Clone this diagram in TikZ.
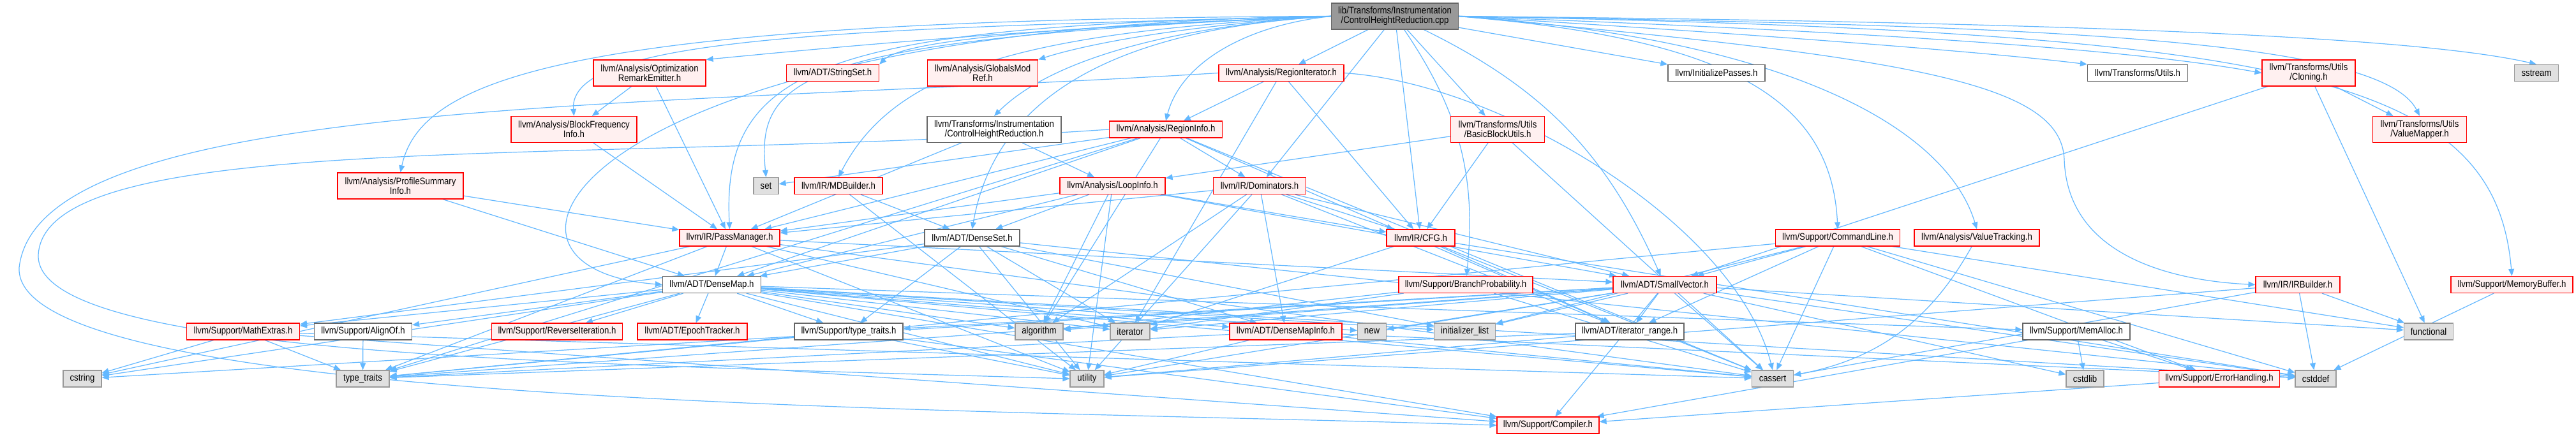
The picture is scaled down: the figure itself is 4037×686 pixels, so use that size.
\documentclass[tikz,border=0pt]{standalone}
\usepackage{fontspec}
\setmainfont{Liberation Sans}[FakeStretch=0.88]
\usetikzlibrary{arrows.meta,backgrounds}
\definecolor{edgec}{HTML}{63B8FF}
\definecolor{redb}{HTML}{FF0000}
\definecolor{redf}{HTML}{FFF0F0}
\definecolor{grayb}{HTML}{999999}
\definecolor{grayf}{HTML}{E0E0E0}
\definecolor{darkb}{HTML}{666666}
\definecolor{mainf}{HTML}{999999}
\begin{document}
\begin{tikzpicture}[x=0.5pt,y=-0.5pt,
  box/.style={rectangle, inner sep=0pt, align=center, font=\fontsize{7.5}{7.5}\selectfont, line width=0.6pt, minimum height=13pt},
  two/.style={minimum height=20.5pt},
  redbox/.style={box, draw=redb, fill=redf},
  whitebox/.style={box, draw=darkb, fill=white},
  graybox/.style={box, draw=grayb, fill=grayf},
  mainbox/.style={box, draw=darkb, fill=mainf},
  edge/.style={draw=edgec, line width=0.6pt, -{Triangle[length=5.5pt,width=4.5pt]}}]
\useasboundingbox (0,0) rectangle (4037,686);
% Row A
\node[mainbox,two,minimum width=99.5pt] (main) at (2186,25.5) {lib/Transforms/Instrumentation\\/ControlHeightReduction.cpp};
% Row B
\node[redbox,two,minimum width=88pt] (optre) at (1018,114.5) {llvm/Analysis/Optimization\\RemarkEmitter.h};
\node[redbox,minimum width=72.5pt] (strset) at (1305,114.5) {llvm/ADT/StringSet.h};
\node[redbox,two,minimum width=86.5pt] (gmr) at (1540,114.5) {llvm/Analysis/GlobalsMod\\Ref.h};
\node[redbox,minimum width=98pt] (regit) at (2008,114.5) {llvm/Analysis/RegionIterator.h};
\node[whitebox,minimum width=76pt] (initp) at (2690,114.5) {llvm/InitializePasses.h};
\node[whitebox,minimum width=78.5pt] (tutils) at (3350,114.5) {llvm/Transforms/Utils.h};
\node[redbox,two,minimum width=73pt] (cloning) at (3618,114.5) {llvm/Transforms/Utils\\/Cloning.h};
\node[graybox,minimum width=34.5pt] (sstream) at (3975,114.5) {sstream};
% Row C
\node[redbox,two,minimum width=98.5pt] (bfi) at (899.5,203) {llvm/Analysis/BlockFrequency\\Info.h};
\node[whitebox,two,minimum width=105pt] (chrh) at (1558,203) {llvm/Transforms/Instrumentation\\/ControlHeightReduction.h};
\node[redbox,minimum width=88.5pt] (reginfo) at (1827,203) {llvm/Analysis/RegionInfo.h};
\node[redbox,two,minimum width=73.5pt] (bbu) at (2347,203) {llvm/Transforms/Utils\\/BasicBlockUtils.h};
\node[redbox,two,minimum width=73.5pt] (vmap) at (3792,203) {llvm/Transforms/Utils\\/ValueMapper.h};
% Row D
\node[redbox,two,minimum width=98.5pt] (psi) at (627.5,291.5) {llvm/Analysis/ProfileSummary\\Info.h};
\node[graybox,minimum width=19.5pt] (set) at (1200.5,291.5) {set};
\node[redbox,minimum width=69pt] (mdb) at (1314,291.5) {llvm/IR/MDBuilder.h};
\node[redbox,minimum width=82.5pt] (loopinfo) at (1743.5,291.5) {llvm/Analysis/LoopInfo.h};
\node[redbox,minimum width=72.5pt] (dom) at (1974,291.5) {llvm/IR/Dominators.h};
% Row E
\node[redbox,minimum width=78.5pt] (pm) at (1143.5,373) {llvm/IR/PassManager.h};
\node[whitebox,minimum width=74.5pt] (denseset) at (1523.5,373) {llvm/ADT/DenseSet.h};
\node[redbox,minimum width=53.5pt] (cfg) at (2226.5,373) {llvm/IR/CFG.h};
\node[redbox,minimum width=97.5pt] (cl) at (2880,373) {llvm/Support/CommandLine.h};
\node[redbox,minimum width=98pt] (vt) at (3098,373) {llvm/Analysis/ValueTracking.h};
% Row F
\node[whitebox,minimum width=77pt] (densemap) at (1115.5,446.5) {llvm/ADT/DenseMap.h};
\node[redbox,minimum width=105pt] (bp) at (2297,446.5) {llvm/Support/BranchProbability.h};
\node[redbox,minimum width=81pt] (sv) at (2609,446.5) {llvm/ADT/SmallVector.h};
\node[redbox,minimum width=66pt] (irb) at (3601,446.5) {llvm/IR/IRBuilder.h};
\node[redbox,minimum width=95.5pt] (mbuf) at (3936.5,446.5) {llvm/Support/MemoryBuffer.h};
% Row G
\node[redbox,minimum width=88.5pt] (mathex) at (381,520) {llvm/Support/MathExtras.h};
\node[whitebox,minimum width=76.5pt] (alignof) at (569,520) {llvm/Support/AlignOf.h};
\node[redbox,minimum width=102.5pt] (reviter) at (873,520) {llvm/Support/ReverseIteration.h};
\node[redbox,minimum width=86pt] (epoch) at (1085,520) {llvm/ADT/EpochTracker.h};
\node[whitebox,minimum width=85pt] (ttraitsh) at (1330,520) {llvm/Support/type\_traits.h};
\node[graybox,minimum width=37.5pt] (algorithm) at (1628.5,520) {algorithm};
\node[graybox,minimum width=31pt] (iterator) at (1771,520) {iterator};
\node[redbox,minimum width=88pt] (dmi) at (2015,520) {llvm/ADT/DenseMapInfo.h};
\node[graybox,minimum width=22.5pt] (new) at (2150,520) {new};
\node[graybox,minimum width=48pt] (initlist) at (2295.5,520) {initializer\_list};
\node[whitebox,minimum width=85pt] (itrange) at (2554,520) {llvm/ADT/iterator\_range.h};
\node[whitebox,minimum width=84pt] (memalloc) at (3254,520) {llvm/Support/MemAlloc.h};
\node[graybox,minimum width=38.5pt] (functional) at (3806,520) {functional};
% Row H
\node[graybox,minimum width=30pt] (cstring) at (129,594) {cstring};
\node[graybox,minimum width=41.5pt] (ttraits) at (568.5,594) {type\_traits};
\node[graybox,minimum width=26.5pt] (utility) at (1703.5,594) {utility};
\node[graybox,minimum width=32.5pt] (cassert) at (2778,594) {cassert};
\node[graybox,minimum width=29.5pt] (cstdlib) at (3267.5,594) {cstdlib};
\node[redbox,minimum width=94.5pt] (errh) at (3478,594) {llvm/Support/ErrorHandling.h};
\node[graybox,minimum width=32pt] (cstddef) at (3629,594) {cstddef};
% Row I
\node[redbox,minimum width=80pt] (compiler) at (2426,667) {llvm/Support/Compiler.h};

\begin{scope}[on background layer]
\fill[white] (0,0) rectangle (4037,686);
% main node edges
\draw[edge] (main.west) .. controls (1600,45) and (1300,75) .. (optre.north east);
\draw[edge] (main.west) .. controls (1700,40) and (1420,60) .. (strset.north east);
\draw[edge] (main.west) .. controls (1850,40) and (1700,70) .. (gmr.north east);
\draw[edge] (main) -- (regit);
\draw[edge] (main.west) .. controls (1850,40) and (1650,90) .. (chrh.north);
\draw[edge] (main.west) .. controls (1950,40) and (1850,100) .. (reginfo.north);
\draw[edge] (main.west) .. controls (1300,45) and (890,60) .. (bfi.north);
\draw[edge] (main.west) .. controls (900,30) and (660,120) .. (psi.north);
\draw[edge] (main.west) .. controls (1250,60) and (1185,120) .. (set.north);
\draw[edge] (main.west) .. controls (1600,50) and (1400,110) .. (mdb.north);
\draw[edge] (main.west) .. controls (1300,40) and (1130,100) .. (pm.north);
\draw[edge] (main.west) .. controls (1750,45) and (1560,150) .. (denseset.north);
\draw[edge] (main.west) .. controls (900,40) and (700,420) .. (densemap.west);
\draw[edge] (main) -- (dom);
\draw[edge] (main) -- (cfg);
\draw[edge] (main) -- (bbu);
\draw[edge] (main) to[bend left=20] (bp);
\draw[edge] (main) to[bend left=20] (sv);
\draw[edge] (main) -- (initp);
\draw[edge] (main.east) .. controls (2700,50) and (3100,80) .. (tutils.north west);
\draw[edge] (main.east) .. controls (2800,45) and (3300,70) .. (cloning.west);
\draw[edge] (main.east) .. controls (3200,40) and (3730,60) .. (vmap.north);
\draw[edge] (main.east) .. controls (3300,35) and (3800,60) .. (sstream.north);
\draw[edge] (main.east) .. controls (2700,60) and (2870,150) .. (cl.north);
\draw[edge] (main.east) .. controls (2800,60) and (3050,200) .. (vt.north);
\draw[edge] (main.east) .. controls (3000,90) and (3230,130) .. (3235,250) .. controls (3240,400) and (3400,440) .. (irb.west);
\draw[edge] (main.east) .. controls (3600,50) and (3910,120) .. (mbuf.north);
% second level
\draw[edge] (optre) -- (bfi);
\draw[edge] (optre) -- (pm);
\draw[edge] (bfi) -- (pm);
\draw[edge] (psi) -- (densemap);
\draw[edge] (psi) -- (pm);
\draw[edge] (regit) -- (reginfo);
\draw[edge] (regit) -- (cfg);
\draw[edge] (regit) -- (iterator);
\draw[edge] (regit.east) .. controls (2350,130) and (2720,350) .. (cassert.north);
\draw[edge] (regit.west) .. controls (1000,170) and (60,150) .. (30,420) .. controls (20,640) and (1500,640) .. (compiler.west);
\draw[edge] (reginfo) -- (densemap);
\draw[edge] (reginfo) -- (itrange);
\draw[edge] (reginfo) -- (dom);
\draw[edge] (reginfo) -- (pm);
\draw[edge] (reginfo) -- (algorithm);
\draw[edge] (reginfo) -- (cassert);
\draw[edge] (reginfo) -- (set);
\draw[edge] (reginfo) -- (ttraits);
\draw[edge] (reginfo.west) .. controls (900,260) and (70,200) .. (60,400) .. controls (55,560) and (900,570) .. (utility.west);
\draw[edge] (chrh) -- (loopinfo);
\draw[edge] (chrh) -- (pm);
\draw[edge] (loopinfo) -- (densemap);
\draw[edge] (loopinfo) -- (denseset);
\draw[edge] (loopinfo) -- (sv);
\draw[edge] (loopinfo) -- (cfg);
\draw[edge] (loopinfo) -- (pm);
\draw[edge] (loopinfo) -- (algorithm);
\draw[edge] (loopinfo) -- (utility);
\draw[edge] (dom) -- (dmi);
\draw[edge] (dom) -- (sv);
\draw[edge] (dom) -- (itrange);
\draw[edge] (dom) -- (cfg);
\draw[edge] (dom) -- (pm);
\draw[edge] (dom) -- (algorithm);
\draw[edge] (dom) -- (utility);
\draw[edge] (bbu) -- (loopinfo);
\draw[edge] (bbu) -- (cfg);
\draw[edge] (bbu) -- (cassert);
\draw[edge] (mdb) -- (denseset);
\draw[edge] (mdb) -- (utility);
\draw[edge] (pm) -- (densemap);
\draw[edge] (pm) -- (sv);
\draw[edge] (pm) -- (cassert);
\draw[edge] (pm) -- (cstring);
\draw[edge] (pm) -- (iterator);
\draw[edge] (pm) -- (ttraits);
\draw[edge] (pm) -- (utility);
\draw[edge] (denseset) -- (densemap);
\draw[edge] (denseset) -- (dmi);
\draw[edge] (denseset) -- (mathex);
\draw[edge] (denseset) -- (ttraitsh);
\draw[edge] (denseset) -- (cstddef);
\draw[edge] (denseset) -- (initlist);
\draw[edge] (denseset) -- (iterator);
\draw[edge] (denseset) -- (utility);
\draw[edge] (cfg) -- (itrange);
\draw[edge] (cfg) -- (cassert);
\draw[edge] (cfg) -- (cstddef);
\draw[edge] (cfg) -- (iterator);
\draw[edge] (cl) -- (sv);
\draw[edge] (cl) -- (itrange);
\draw[edge] (cl) -- (errh);
\draw[edge] (cl) -- (cassert);
\draw[edge] (cl) -- (cstddef);
\draw[edge] (cl) -- (functional);
\draw[edge] (cl) -- (initlist);
\draw[edge] (cl) -- (ttraits);
\draw[edge] (vt) to[bend left=25] (cassert);
\draw[edge] (irb) -- (cassert);
\draw[edge] (irb) -- (functional);
\draw[edge] (irb) -- (utility);
\draw[edge] (irb) -- (cstddef);
\draw[edge] (mbuf) -- (cstddef);
\draw[edge] (cloning) -- (sv);
\draw[edge] (cloning) -- (vmap);
\draw[edge] (cloning) -- (functional);
\draw[edge] (densemap) -- (dmi);
\draw[edge] (densemap) -- (epoch);
\draw[edge] (densemap) -- (alignof);
\draw[edge] (densemap) -- (compiler);
\draw[edge] (densemap) -- (mathex);
\draw[edge] (densemap) -- (memalloc);
\draw[edge] (densemap) -- (reviter);
\draw[edge] (densemap) -- (ttraitsh);
\draw[edge] (densemap) -- (algorithm);
\draw[edge] (densemap) -- (cassert);
\draw[edge] (densemap) -- (cstddef);
\draw[edge] (densemap) -- (cstring);
\draw[edge] (densemap) -- (initlist);
\draw[edge] (densemap) -- (iterator);
\draw[edge] (densemap) -- (new);
\draw[edge] (densemap) -- (ttraits);
\draw[edge] (densemap) -- (utility);
\draw[edge] (bp) -- (algorithm);
\draw[edge] (bp) -- (cassert);
\draw[edge] (bp) -- (iterator);
\draw[edge] (sv) -- (compiler);
\draw[edge] (sv) -- (ttraitsh);
\draw[edge] (sv) -- (algorithm);
\draw[edge] (sv) -- (cassert);
\draw[edge] (sv) -- (cstddef);
\draw[edge] (sv) -- (cstdlib);
\draw[edge] (sv) -- (cstring);
\draw[edge] (sv) -- (functional);
\draw[edge] (sv) -- (initlist);
\draw[edge] (sv) -- (iterator);
\draw[edge] (sv) -- (new);
\draw[edge] (sv) -- (ttraits);
\draw[edge] (sv) -- (utility);
\draw[edge] (sv) -- (itrange);
\draw[edge] (mathex) -- (compiler);
\draw[edge] (mathex) -- (cassert);
\draw[edge] (mathex) -- (cstring);
\draw[edge] (mathex) -- (ttraits);
\draw[edge] (alignof) -- (ttraits);
\draw[edge] (ttraitsh) -- (compiler);
\draw[edge] (ttraitsh) -- (ttraits);
\draw[edge] (ttraitsh) -- (utility);
\draw[edge] (dmi) -- (cassert);
\draw[edge] (dmi) -- (cstddef);
\draw[edge] (dmi) -- (ttraits);
\draw[edge] (dmi) -- (utility);
\draw[edge] (itrange) -- (ttraits);
\draw[edge] (itrange) -- (utility);
\draw[edge] (memalloc) -- (compiler);
\draw[edge] (memalloc) -- (errh);
\draw[edge] (memalloc) -- (cstdlib);
\draw[edge] (errh) -- (compiler);
\end{scope}
\end{tikzpicture}
\end{document}
